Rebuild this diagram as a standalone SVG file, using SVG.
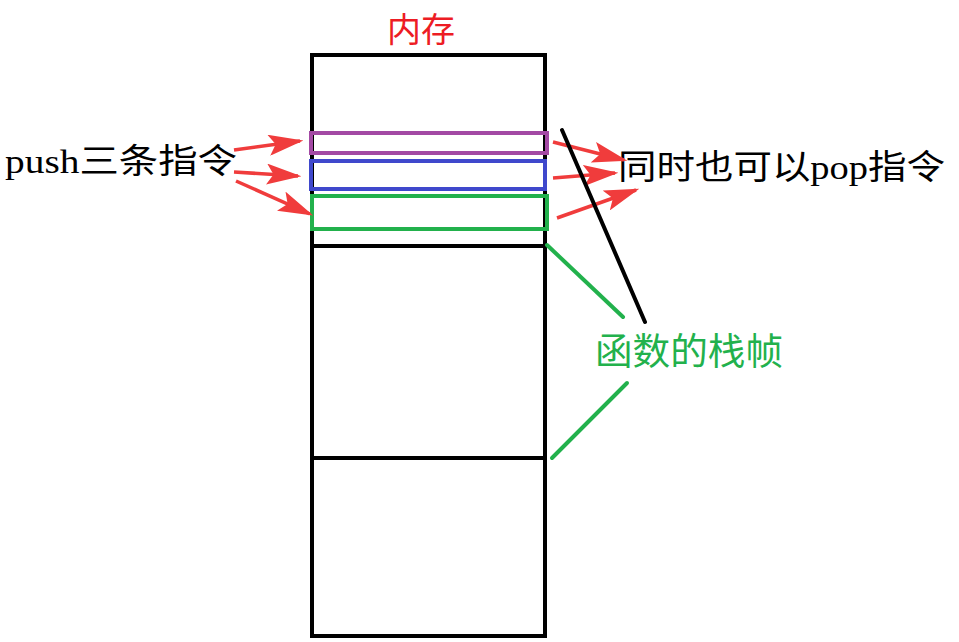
<svg xmlns="http://www.w3.org/2000/svg" width="959" height="642" viewBox="0 0 959 642">
<style>
.t{font-family:"Liberation Serif","Noto Sans CJK SC",serif;}
.blk{fill:none;stroke:#000;stroke-width:4;}
.arr{stroke:#f03c3c;stroke-width:3.5;fill:none;marker-end:url(#ah);}
.gl{stroke:#22b14c;stroke-width:4;stroke-linecap:round;fill:none;}
</style>
<defs>
<marker id="ah" markerWidth="10" markerHeight="6" refX="9" refY="3" orient="auto" markerUnits="strokeWidth">
<path d="M0,0 L10,3 L0,6 L2,3 Z" fill="#f03c3c"/>
</marker>
</defs>
<rect width="959" height="642" fill="#fff"/>
<g id="memory">
<rect class="blk" x="312" y="55" width="233" height="581"/>
<line class="blk" x1="312" y1="246" x2="545" y2="246"/>
<line class="blk" x1="312" y1="458" x2="545" y2="458"/>
</g>
<g id="frame-purple"><rect x="311" y="133" width="236" height="20" fill="none" stroke="#a349a4" stroke-width="4"/></g>
<g id="frame-blue"><rect x="311" y="161" width="234" height="28" fill="none" stroke="#3f48cc" stroke-width="4"/></g>
<g id="frame-green"><rect x="312" y="196" width="235" height="33" fill="none" stroke="#22b14c" stroke-width="4"/></g>
<g id="label-mem"><text class="t" x="387" y="42" font-size="34" fill="#ed1c24">内存</text></g>
<g id="label-push"><text class="t" x="5" y="173" font-size="34" fill="#000" textLength="232" lengthAdjust="spacingAndGlyphs">push三条指令</text></g>
<g id="label-pop"><text class="t" x="618" y="179" font-size="34" fill="#000" textLength="327" lengthAdjust="spacingAndGlyphs">同时也可以pop指令</text></g>
<g id="label-frame"><text class="t" x="595" y="365" font-size="37" fill="#22b14c" textLength="188" lengthAdjust="spacingAndGlyphs">函数的栈帧</text></g>
<g id="connectors">
<line class="arr" x1="234" y1="150" x2="300" y2="141"/>
<line class="arr" x1="234" y1="172" x2="298" y2="176"/>
<line class="arr" x1="236" y1="181" x2="310" y2="214"/>
<line class="arr" x1="553" y1="142" x2="624" y2="160"/>
<line class="arr" x1="553" y1="178" x2="615" y2="173"/>
<line class="arr" x1="557" y1="218" x2="636" y2="190"/>
<line x1="562" y1="130" x2="645" y2="322" stroke="#000" stroke-width="4" stroke-linecap="round"/>
<line class="gl" x1="547" y1="245" x2="623" y2="317"/>
<line class="gl" x1="627" y1="383" x2="552" y2="458"/>
</g>
</svg>
